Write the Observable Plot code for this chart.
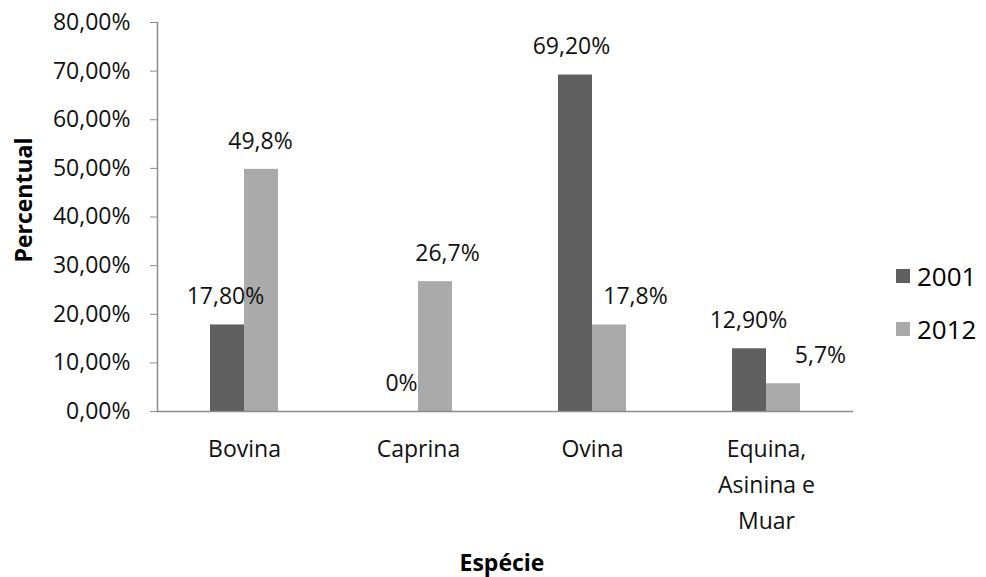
<!DOCTYPE html>
<html>
<head>
<meta charset="utf-8">
<script src="https://cdn.jsdelivr.net/npm/d3@7"></script>
<script src="https://cdn.jsdelivr.net/npm/@observablehq/plot@0.6"></script>
<style>
  body { margin: 0; background: #fff; }
  #wrap { position: relative; width: 986px; height: 577px; font-family: "Open Sans", sans-serif; color: #000; }
  #wrap svg { position: absolute; left: 0; top: 0; }
  .ytitle { position: absolute; left: 23px; top: 200px; transform: translate(-50%, -50%) rotate(-90deg); font-weight: bold; font-size: 23px; line-height: 1; white-space: nowrap; }
  .xtitle { position: absolute; left: 502px; top: 562px; transform: translate(-50%, -50%); font-weight: bold; font-size: 23px; line-height: 1; white-space: nowrap; }
  .legend { position: absolute; left: 896px; top: 262px; font-size: 26px; line-height: 1; }
  .legend .item { display: flex; align-items: center; height: 28px; margin-bottom: 25px; }
  .legend .sw { width: 14px; height: 14px; margin-right: 7px; }
</style>
</head>
<body>
<div id="wrap"></div>
<script>
const categories = ["Bovina", "Caprina", "Ovina", "Equina, Asinina e Muar"];
const categoryLabels = ["Bovina", "Caprina", "Ovina", "Equina,\nAsinina e\nMuar"];
const years = ["2001", "2012"];
const values2001 = [17.8, 0, 69.2, 12.9];
const values2012 = [49.8, 26.7, 17.8, 5.7];
const labels2001 = ["17,80%", "0%", "69,20%", "12,90%"];
const labels2012 = ["49,8%", "26,7%", "17,8%", "5,7%"];
const yTicks = [0, 10, 20, 30, 40, 50, 60, 70, 80];
const colors = ["#5f5f5f", "#aaaaaa"];
// annotation nudges (horizontal offset of value labels, as placed in the original)
const labelNudge2001 = [-2, 0, -4, -1];
const labelNudge2012 = [-1, 12, 26, 37];

const rows = [];
categories.forEach((c, i) => {
  rows.push({cat: c, year: "2001", value: values2001[i], label: labels2001[i], nudge: labelNudge2001[i]});
  rows.push({cat: c, year: "2012", value: values2012[i], label: labels2012[i], nudge: labelNudge2012[i]});
});

const labelMarks = rows.map(d => Plot.text([d], {
  fx: "cat", x: "year", y: "value", text: "label",
  dy: -28, dx: d.nudge, fill: "#111", fontSize: 23
}));

const chart = Plot.plot({
  width: 986,
  height: 577,
  marginLeft: 157,
  marginRight: 133,
  marginTop: 22,
  marginBottom: 166,
  style: {fontFamily: "Open Sans, sans-serif", fontSize: "23px", color: "#111", background: "white", overflow: "visible"},
  fx: {domain: categories, padding: 0, label: null},
  x: {domain: years, paddingInner: 0, paddingOuter: 1.486, axis: null},
  y: {domain: [0, 80], label: null},
  color: {domain: years, range: colors},
  marks: [
    Plot.barY(rows, {fx: "cat", x: "year", y: "value", fill: "year"}),
    Plot.ruleY([0], {stroke: "#8c8c8c", strokeWidth: 1.5}),
    Plot.frame({anchor: "left", stroke: "#8c8c8c", strokeWidth: 1.5, facetAnchor: "left"}),
    Plot.axisY({
      ticks: yTicks,
      tickFormat: d => d.toFixed(2).replace(".", ",") + "%",
      tickSize: 7,
      tickPadding: 20,
      stroke: "#8c8c8c",
      fill: "#111",
      fontSize: 23,
      label: null
    }),
    Plot.axisFx({
      anchor: "bottom",
      tickSize: 0,
      tickPadding: 20,
      lineHeight: 1.56,
      fontSize: 23,
      fill: "#111",
      label: null,
      tickFormat: d => categoryLabels[categories.indexOf(d)]
    }),
    ...labelMarks
  ]
});

const wrap = document.getElementById("wrap");
wrap.appendChild(chart);

const yt = document.createElement("div");
yt.className = "ytitle"; yt.textContent = "Percentual";
wrap.appendChild(yt);

const xt = document.createElement("div");
xt.className = "xtitle"; xt.textContent = "Espécie";
wrap.appendChild(xt);

const lg = document.createElement("div");
lg.className = "legend";
years.forEach((y, i) => {
  const item = document.createElement("div");
  item.className = "item";
  const sw = document.createElement("span");
  sw.className = "sw"; sw.style.background = colors[i];
  const t = document.createElement("span");
  t.textContent = y;
  item.appendChild(sw); item.appendChild(t);
  lg.appendChild(item);
});
wrap.appendChild(lg);
</script>
</body>
</html>
